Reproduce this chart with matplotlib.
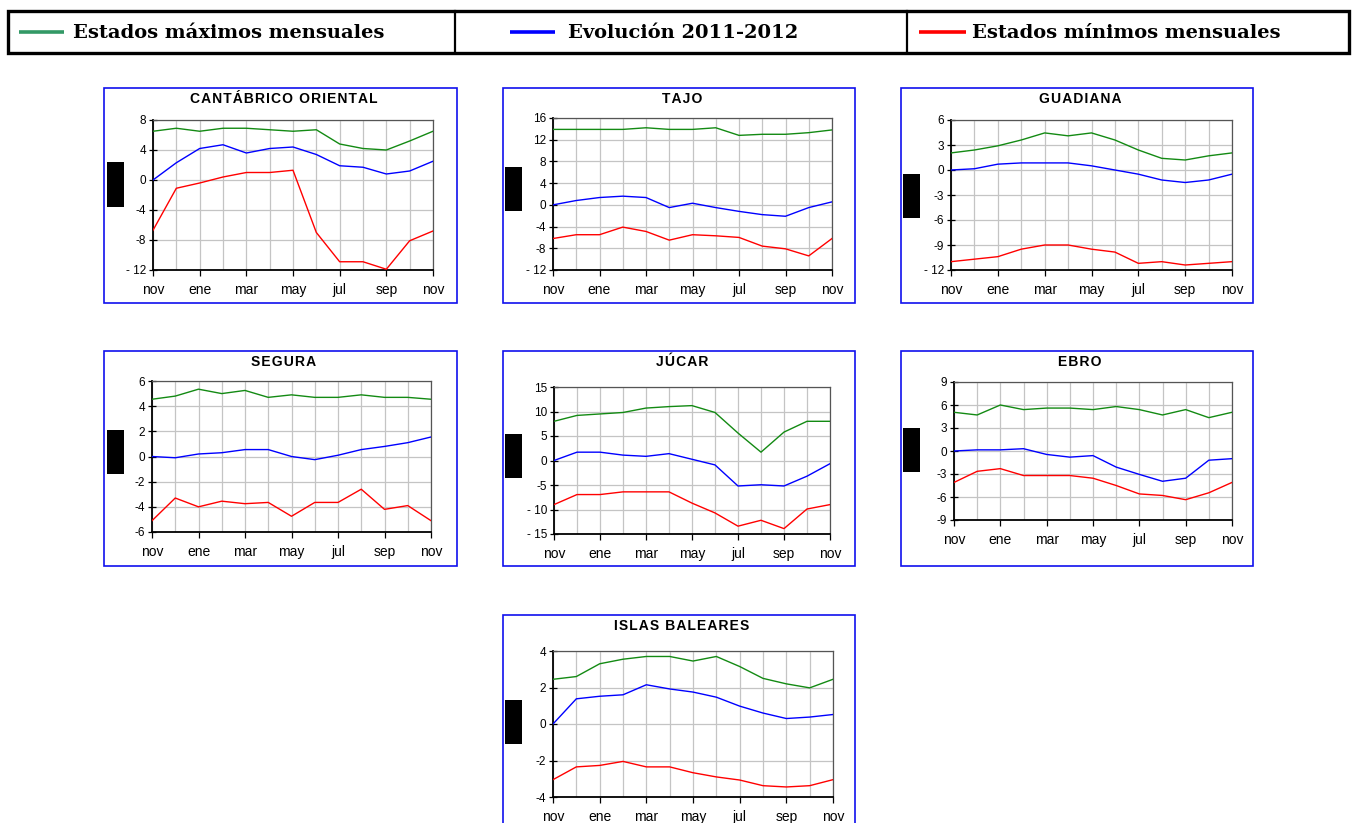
import matplotlib
matplotlib.use('Agg')
import matplotlib.pyplot as plt
from matplotlib.patches import Rectangle
from matplotlib.lines import Line2D
from matplotlib.ticker import FixedLocator

W, H = 1352, 823

# ---------------- data ----------------
months = ['nov', 'dic', 'ene', 'feb', 'mar', 'abr', 'may', 'jun', 'jul', 'ago', 'sep', 'oct', 'nov']
shown_months = ['nov', 'ene', 'mar', 'may', 'jul', 'sep', 'nov']
legend_labels = ['Estados máximos mensuales', 'Evolución 2011-2012', 'Estados mínimos mensuales']

titles = ['CANTÁBRICO ORIENTAL', 'TAJO', 'GUADIANA', 'SEGURA', 'JÚCAR', 'EBRO', 'ISLAS BALEARES']

cant_max = [6.5, 6.9, 6.5, 6.9, 6.9, 6.7, 6.5, 6.7, 4.8, 4.2, 4.0, 5.2, 6.5]
cant_evo = [0.0, 2.3, 4.2, 4.7, 3.6, 4.2, 4.4, 3.4, 1.9, 1.7, 0.8, 1.2, 2.5]
cant_min = [-6.7, -1.1, -0.4, 0.4, 1.0, 1.0, 1.3, -7.0, -10.9, -10.9, -11.9, -8.1, -6.8]

tajo_max = [13.9, 13.9, 13.9, 13.9, 14.2, 13.9, 13.9, 14.2, 12.8, 13.0, 13.0, 13.3, 13.8]
tajo_evo = [0.0, 0.8, 1.35, 1.6, 1.35, -0.5, 0.3, -0.5, -1.2, -1.8, -2.1, -0.5, 0.55]
tajo_min = [-6.2, -5.5, -5.5, -4.1, -4.9, -6.5, -5.5, -5.7, -6.0, -7.6, -8.1, -9.4, -6.2]

guad_max = [2.05, 2.4, 2.9, 3.6, 4.45, 4.1, 4.45, 3.6, 2.4, 1.4, 1.2, 1.7, 2.05]
guad_evo = [0.0, 0.15, 0.7, 0.85, 0.85, 0.85, 0.5, 0.0, -0.5, -1.2, -1.5, -1.2, -0.5]
guad_min = [-11.0, -10.7, -10.4, -9.5, -9.0, -9.0, -9.5, -9.85, -11.2, -11.0, -11.4, -11.2, -11.0]

segu_max = [4.55, 4.8, 5.35, 5.0, 5.25, 4.7, 4.9, 4.7, 4.7, 4.9, 4.7, 4.7, 4.55]
segu_evo = [0.0, -0.1, 0.2, 0.3, 0.55, 0.55, 0.0, -0.25, 0.1, 0.55, 0.8, 1.1, 1.55]
segu_min = [-5.1, -3.3, -4.0, -3.55, -3.75, -3.65, -4.75, -3.65, -3.65, -2.6, -4.2, -3.9, -5.1]

jucar_max = [8.0, 9.2, 9.5, 9.8, 10.7, 11.0, 11.2, 9.8, 5.6, 1.7, 5.8, 8.0, 8.0]
jucar_evo = [0.0, 1.7, 1.7, 1.1, 0.85, 1.4, 0.25, -0.9, -5.2, -4.95, -5.2, -3.2, -0.65]
jucar_min = [-9.0, -6.95, -6.95, -6.4, -6.4, -6.4, -8.7, -10.7, -13.4, -12.2, -13.9, -9.9, -9.0]

ebro_max = [5.05, 4.7, 6.0, 5.4, 5.6, 5.6, 5.4, 5.8, 5.4, 4.7, 5.4, 4.35, 5.05]
ebro_evo = [0.0, 0.15, 0.15, 0.3, -0.45, -0.8, -0.6, -2.1, -3.05, -3.95, -3.55, -1.2, -1.0]
ebro_min = [-4.1, -2.65, -2.3, -3.2, -3.2, -3.2, -3.55, -4.5, -5.6, -5.8, -6.35, -5.45, -4.1]

bal_max = [2.45, 2.6, 3.3, 3.55, 3.7, 3.7, 3.45, 3.7, 3.15, 2.5, 2.2, 1.98, 2.45]
bal_evo = [0.0, 1.38, 1.52, 1.6, 2.15, 1.92, 1.75, 1.47, 0.98, 0.6, 0.3, 0.38, 0.52]
bal_min = [-3.05, -2.35, -2.27, -2.05, -2.35, -2.35, -2.67, -2.9, -3.07, -3.38, -3.45, -3.38, -3.05]

series_max = [cant_max, tajo_max, guad_max, segu_max, jucar_max, ebro_max, bal_max]
series_evo = [cant_evo, tajo_evo, guad_evo, segu_evo, jucar_evo, ebro_evo, bal_evo]
series_min = [cant_min, tajo_min, guad_min, segu_min, jucar_min, ebro_min, bal_min]

y_ticks = [
    [-12, -8, -4, 0, 4, 8],
    [-12, -8, -4, 0, 4, 8, 12, 16],
    [-12, -9, -6, -3, 0, 3, 6],
    [-6, -4, -2, 0, 2, 4, 6],
    [-15, -10, -5, 0, 5, 10, 15],
    [-9, -6, -3, 0, 3, 6, 9],
    [-4, -2, 0, 2, 4],
]

# ---------------- layout (pixels) ----------------
# axes: left, top, right, bottom
axes_px = [
    (153, 120, 433, 270),
    (553, 118, 832, 270),
    (951, 120, 1232, 270),
    (152, 381, 431, 532),
    (554, 387, 830, 534),
    (954, 382, 1232, 520),
    (553, 651, 833, 797),
]
# panel frames: left, top, right, bottom
frame_px = [
    (104, 88, 457, 303),
    (503, 88, 855, 303),
    (901, 88, 1253, 303),
    (104, 351, 457, 566),
    (503, 351, 855, 566),
    (901, 351, 1253, 566),
    (503, 615, 855, 840),
]
# black boxes: left, top, right, bottom
block_px = [
    (107, 162, 124, 207),
    (505, 167, 522, 211),
    (903, 174, 920, 218),
    (107, 430, 124, 474),
    (505, 434, 522, 478),
    (903, 428, 920, 472),
    (505, 700, 522, 744),
]

C_MAX = '#138a13'
C_EVO = '#0000ff'
C_MIN = '#ff0000'
C_MAX_LEG = '#339966'
GRID = '#c4c4c4'

plt.rcParams['font.family'] = ['Liberation Sans', 'DejaVu Sans']

fig = plt.figure(figsize=(W / 100, H / 100), dpi=100)


def fx(x):
    return x / W


def fy(y):
    return 1 - y / H


def fmt(v):
    if v < 0:
        return ('- %d' % -v) if abs(v) >= 10 else ('-%d' % -v)
    return '%d' % v


def spaced(s):
    return '\u200a'.join(s)


# ---------------- legend bar ----------------
fig.patches.append(Rectangle((fx(8), fy(53)), (1349 - 8) / W, (53 - 11) / H,
                             transform=fig.transFigure, fill=False,
                             edgecolor='black', lw=2.4, zorder=5))
for xd in (455, 907):
    fig.add_artist(Line2D([fx(xd), fx(xd)], [fy(11), fy(53)], transform=fig.transFigure,
                          color='black', lw=1.6))
leg_line_x = [(19, 64), (510, 555), (919, 966)]
leg_text_x = [73, 568, 972]
leg_cols = [C_MAX_LEG, C_EVO, C_MIN]
for (x0, x1), xt, c, lab in zip(leg_line_x, leg_text_x, leg_cols, legend_labels):
    fig.add_artist(Line2D([fx(x0), fx(x1)], [fy(32), fy(32)], transform=fig.transFigure,
                          color=c, lw=2.6, solid_capstyle='butt'))
    fig.text(fx(xt), fy(33), lab, fontsize=14, fontweight='bold',
             family=['DejaVu Serif'], va='center', ha='left')

# ---------------- panels ----------------
x = list(range(len(months)))
for i in range(7):
    fl, ft, fr, fb = frame_px[i]
    fig.patches.append(Rectangle((fx(fl), fy(fb)), (fr - fl) / W, (fb - ft) / H,
                                 transform=fig.transFigure, fill=False,
                                 edgecolor='#1010ee', lw=1.2, zorder=1))
    bl, bt, br, bb = block_px[i]
    fig.patches.append(Rectangle((fx(bl), fy(bb)), (br - bl) / W, (bb - bt) / H,
                                 transform=fig.transFigure, facecolor='black',
                                 edgecolor='none', zorder=2))
    fig.text(fx((fl + fr) / 2 + 3), fy(ft + 11), spaced(titles[i]), fontsize=10,
             fontweight='bold', ha='center', va='center')

    l, t, r, b = axes_px[i]
    ax = fig.add_axes([fx(l), fy(b), (r - l) / W, (b - t) / H])
    ax.plot(x, series_max[i], color=C_MAX, lw=1.0, zorder=3)
    ax.plot(x, series_evo[i], color=C_EVO, lw=1.0, zorder=3)
    ax.plot(x, series_min[i], color=C_MIN, lw=1.0, zorder=3)

    yt = y_ticks[i]
    ax.set_xlim(0, len(months) - 1)
    ax.set_ylim(yt[0], yt[-1])
    ax.xaxis.set_major_locator(FixedLocator(list(range(0, len(months), 2))))
    ax.xaxis.set_minor_locator(FixedLocator(x))
    ax.set_xticklabels(shown_months)
    ax.set_yticks(yt)
    ax.set_yticklabels([fmt(v) for v in yt])
    ax.grid(True, which='both', axis='x', color=GRID, lw=0.9)
    ax.grid(True, which='major', axis='y', color=GRID, lw=0.9)
    ax.set_axisbelow(True)
    ax.tick_params(axis='x', which='major', direction='out', length=4, width=0.9,
                   labelsize=10, pad=13)
    ax.tick_params(axis='x', which='minor', length=0)
    for lab in ax.get_xticklabels():
        lab.set_verticalalignment('baseline')
    ax.tick_params(axis='y', which='major', direction='inout', length=6, width=0.9,
                   labelsize=8.5, pad=2)
    for s in ('left', 'bottom'):
        ax.spines[s].set_color('black')
        ax.spines[s].set_linewidth(1.3)
    for s in ('top', 'right'):
        ax.spines[s].set_color('#555555')
        ax.spines[s].set_linewidth(0.9)

fig.savefig('out.png', dpi=100)
